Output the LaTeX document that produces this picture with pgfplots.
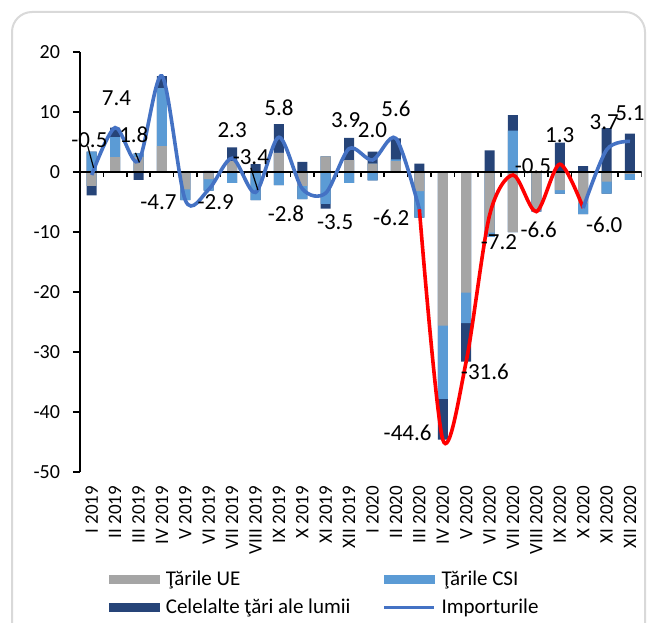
\documentclass[border=0pt]{standalone}
\usepackage{fontspec}
\setmainfont{Carlito}
\usepackage{pgfplots}
\usepackage{pgfplotstable}
\pgfplotsset{compat=1.18}
\definecolor{cEU}{HTML}{A5A5A5}
\definecolor{cCSI}{HTML}{5B9BD5}
\definecolor{cOTH}{HTML}{264478}
\definecolor{cLine}{HTML}{4472C4}
\definecolor{cRed}{HTML}{FF0000}
\definecolor{cFrame}{HTML}{D9D9D9}

% cumulative stacks: p1 = EU(+), p2 = EU(+)+CSI(+), p3 = all positive parts
%                    n1 = EU(-), n2 = EU(-)+CSI(-), n3 = all negative parts
\pgfplotstableread{
x  p1  p2   p3   n1    n2    n3
0  0   3.4  3.4  -2.3  -2.3  -3.9
1  2.5 5.8  7.4  0     0     0
2  2.5 3.1  3.1  0     0     -1.3
3  4.3 14.0 16.0 0     0     0
4  0   0    0    -2.9  -4.7  -4.7
5  0   0    0.2  -1.2  -3.1  -3.1
6  1.8 1.8  4.1  0     -1.8  -1.8
7  0   0    1.3  -0.1  -4.7  -4.7
8  3.2 3.2  8.0  0     -2.2  -2.2
9  0   0    1.7  -2.3  -4.5  -4.5
10 2.6 2.6  2.6  0     -5.3  -6.1
11 2.0 2.0  5.7  0     -1.8  -1.8
12 1.4 1.4  3.4  0     -1.4  -1.4
13 1.8 2.1  5.6  0     0     0
14 0   0    1.4  -3.2  -7.6  -7.6
15 0   0    0    -25.6 -37.8 -44.6
16 0   0    0    -20.1 -25.2 -31.6
17 0   0    3.6  -10.1 -10.8 -10.8
18 0   6.9  9.5  -10.0 -10.0 -10.0
19 0   0    0    -6.3  -6.6  -6.6
20 0   0    4.9  -3.0  -3.6  -3.6
21 0   0    1.0  -5.2  -7.0  -7.0
22 0   0    7.3  -1.6  -3.6  -3.6
23 0   0    6.4  -0.3  -1.3  -1.3
}\bars

\pgfplotstableread{
x     y     lab
-0.1  5.3   -0.5
1.06  12.3  7.4
1.8   6.2   1.8
3.0   20.8  16.0
2.85  -5.0  -4.7
5.3   -5.0  -2.9
6.0   7.0   2.3
6.8   2.5   -3.4
8.0   10.7  5.8
8.3   -7.0  -2.8
10.4  -8.3  -3.5
10.85 8.7   3.9
12.0  7.0   2.0
13.0  10.5  5.6
12.8  -7.7  -6.2
13.5  -43.5 -44.6
16.8  -33.3 -31.6
17.4  -11.7 -7.2
18.85 1.0   -0.5
19.1  -9.7  -6.6
20.0  6.2   1.3
21.9  -8.8  -6.0
21.9  8.3   3.7
23.0  9.8   5.1
}\labels

\begin{document}
\begin{tikzpicture}
\useasboundingbox (0,0) rectangle (324pt,311pt);
\draw[cFrame, line width=1pt, rounded corners=10pt] (6pt,-20pt) rectangle (322.5pt,305pt);
\begin{axis}[
  at={(40pt,75pt)}, anchor=south west,
  scale only axis, width=280.85pt, height=210pt,
  xmin=-0.5, xmax=23.5, ymin=-50, ymax=20,
  axis y line*=left, axis x line*=bottom,
  x axis line style={draw=none},
  y axis line style={black, line width=0.8pt},
  ytick={-50,-40,-30,-20,-10,0,10,20},
  yticklabels={-50,-40,-30,-20,-10,0,10,20},
  ytick style={black, line width=0.8pt},
  tick align=outside, major tick length=3.5pt,
  yticklabel style={font=\fontsize{10}{12}\selectfont, xshift=-3pt},
  xtick={0,...,23},
  xtick style={draw=none},
  xticklabels={I 2019,II 2019,III 2019,IV 2019,V 2019,VI 2019,VII 2019,VIII 2019,IX 2019,X 2019,XI 2019,XII 2019,I 2020,II 2020,III 2020,IV 2020,V 2020,VI 2020,VII 2020,VIII 2020,IX 2020,X 2020,XI 2020,XII 2020},
  xticklabel style={rotate=90, anchor=east, font=\fontsize{9.5}{11}\selectfont},
  legend columns=2,
  legend cell align=left,
  legend style={at={(axis description cs:0.051,-0.225)}, anchor=north west,
    draw=none, fill=none, inner sep=0pt, row sep=1pt,
    font=\fontsize{10.5}{12}\selectfont,
    /tikz/column 1/.style={column sep=1pt},
    /tikz/column 2/.style={column sep=14pt},
    /tikz/column 3/.style={column sep=1pt}},
]
% positive parts (drawn largest first so they read as a stack)
\addplot[ybar, bar width=5pt, bar shift=0pt, fill=cOTH, draw=none, forget plot] table[x=x,y=p3]{\bars};
\addplot[ybar, bar width=5pt, bar shift=0pt, fill=cCSI, draw=none, forget plot] table[x=x,y=p2]{\bars};
\addplot[ybar, bar width=5pt, bar shift=0pt, fill=cEU, draw=none, forget plot] table[x=x,y=p1]{\bars};
% negative parts
\addplot[ybar, bar width=5pt, bar shift=0pt, fill=cOTH, draw=none, forget plot] table[x=x,y=n3]{\bars};
\addplot[ybar, bar width=5pt, bar shift=0pt, fill=cCSI, draw=none, forget plot] table[x=x,y=n2]{\bars};
\addplot[ybar, bar width=5pt, bar shift=0pt, fill=cEU, draw=none, forget plot] table[x=x,y=n1]{\bars};

% zero line with ticks between categories
\draw[black, line width=0.8pt] (axis cs:-0.5,0) -- (axis cs:23.5,0);
\pgfplotsinvokeforeach{0.5,1.5,...,23.5}{\draw[black, line width=0.8pt] (axis cs:#1,0) -- ([yshift=-2.5pt]axis cs:#1,0);}

% total imports line
\addplot[cLine, line width=1.8pt, smooth, tension=0.5, no markers, forget plot] coordinates {
(0,-0.5)(1,7.4)(2,1.8)(3,16.0)(4,-4.7)(5,-2.9)(6,2.3)(7,-3.4)(8,5.8)(9,-2.8)(10,-3.5)(11,3.9)(12,2.0)(13,5.6)(14,-6.2)};
\addplot[cRed, line width=1.8pt, smooth, tension=0.5, no markers, forget plot] coordinates {
(14,-6.2)(15,-44.6)(16,-31.6)(17,-7.2)(18,-0.5)(19,-6.6)(20,1.3)(21,-6.0)};
\addplot[cLine, line width=1.8pt, smooth, tension=0.5, no markers, forget plot] coordinates {
(21,-6.0)(22,3.7)(23,5.1)};

% leader lines
\draw[black, line width=0.6pt] (axis cs:-0.17,4.3) -- (axis cs:0.08,0.7);
\draw[black, line width=0.6pt] (axis cs:1.87,3.2) -- (axis cs:2.04,1.6);
\draw[black, line width=0.6pt] (axis cs:6.8,0.7) -- (axis cs:7.1,-3.0);

% data labels
\addplot[draw=none, no markers, forget plot, point meta=explicit symbolic,
  nodes near coords, nodes near coords style={anchor=center, font=\fontsize{11.5}{13}\selectfont, text=black}]
  table[x=x, y=y, meta=lab]{\labels};

\addlegendimage{legend image code/.code={\fill[cEU] (0pt,-2pt) rectangle (25pt,2pt);}}
\addlegendentry{Ţările UE}
\addlegendimage{legend image code/.code={\fill[cCSI] (0pt,-2pt) rectangle (25pt,2pt);}}
\addlegendentry{Ţările CSI}
\addlegendimage{legend image code/.code={\fill[cOTH] (0pt,-2pt) rectangle (25pt,2pt);}}
\addlegendentry{Celelalte ţări ale lumii}
\addlegendimage{legend image code/.code={\draw[cLine, line width=1.5pt] (0pt,0pt) -- (25pt,0pt);}}
\addlegendentry{Importurile}
\end{axis}
\end{tikzpicture}
\end{document}
